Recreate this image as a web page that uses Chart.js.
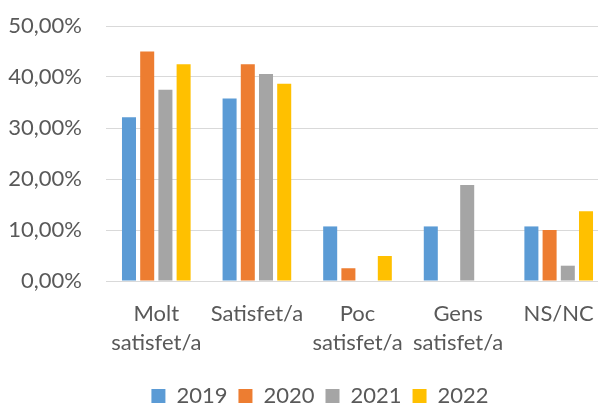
<!DOCTYPE html>
<html>
<head>
    <title>Satisfacció</title>
    <script src="https://cdn.jsdelivr.net/npm/chart.js"></script>
    <style>
        html, body { margin: 0; padding: 0; overflow: hidden; background: #fff; }
    </style>
</head>
<body>
    <canvas id="myChart" width="610" height="405"></canvas>

    <script>
        // chart data
        const categories = [['Molt', 'satisfet/a'], 'Satisfet/a', ['Poc', 'satisfet/a'], ['Gens', 'satisfet/a'], 'NS/NC'];
        const years = ['2019', '2020', '2021', '2022'];
        const y2019 = [32.1, 35.8, 10.7, 10.7, 10.7];
        const y2020 = [45.0, 42.5, 2.5, 0, 10.0];
        const y2021 = [37.5, 40.6, 0, 18.8, 3.0];
        const y2022 = [42.5, 38.7, 4.9, 0, 13.7];
        const yTicks = [0, 10, 20, 30, 40, 50];

        const colors = ['#5B9BD5', '#ED7D31', '#A5A5A5', '#FFC000'];
        const series = [y2019, y2020, y2021, y2022];
        const textColor = '#595959';
        const fontFamily = 'Lato, "Open Sans", sans-serif';

        // nudge the legend to sit where Excel put it
        const legendShift = {
            id: 'legendShift',
            afterLayout(chart) {
                const lg = chart.legend;
                const dx = 320 - (lg.left + lg.right) / 2;
                lg.left += dx;
                lg.right += dx;
                lg.top += 12;
                lg.bottom += 12;
            }
        };

        const ctx = document.getElementById('myChart').getContext('2d');
        new Chart(ctx, {
            type: 'bar',
            data: {
                labels: categories,
                datasets: years.map((y, i) => ({
                    label: y,
                    data: series[i],
                    backgroundColor: colors[i],
                    borderWidth: 0,
                    categoryPercentage: 0.724,
                    barPercentage: 0.77
                }))
            },
            options: {
                responsive: false,
                animation: false,
                layout: {
                    padding: { top: 26, right: 1, left: 0, bottom: 0 }
                },
                plugins: {
                    tooltip: { enabled: false },
                    legend: {
                        position: 'bottom',
                        labels: {
                            boxWidth: 14,
                            boxHeight: 14,
                            padding: 11,
                            color: textColor,
                            font: { family: fontFamily, size: 22 }
                        }
                    }
                },
                scales: {
                    x: {
                        grid: { display: false },
                        border: { display: false },
                        ticks: {
                            color: textColor,
                            padding: 10,
                            maxRotation: 0,
                            autoSkip: false,
                            font: { family: fontFamily, size: 22, lineHeight: 1.32 }
                        },
                        afterFit(scale) { scale.height = 81; }
                    },
                    y: {
                        min: 0,
                        max: 50,
                        afterBuildTicks(scale) { scale.ticks = yTicks.map(v => ({ value: v })); },
                        grid: { color: '#D9D9D9', lineWidth: 1, drawTicks: false },
                        border: { display: false },
                        ticks: {
                            color: textColor,
                            padding: 24,
                            font: { family: fontFamily, size: 22 },
                            callback: v => v.toFixed(2).replace('.', ',') + '%'
                        },
                        afterFit(scale) {
                            scale.width = 106;
                            // tick padding should not push the plot down
                            scale.paddingTop = 0;
                            scale.paddingBottom = 0;
                        }
                    }
                }
            },
            plugins: [legendShift]
        });
    </script>
</body>
</html>
